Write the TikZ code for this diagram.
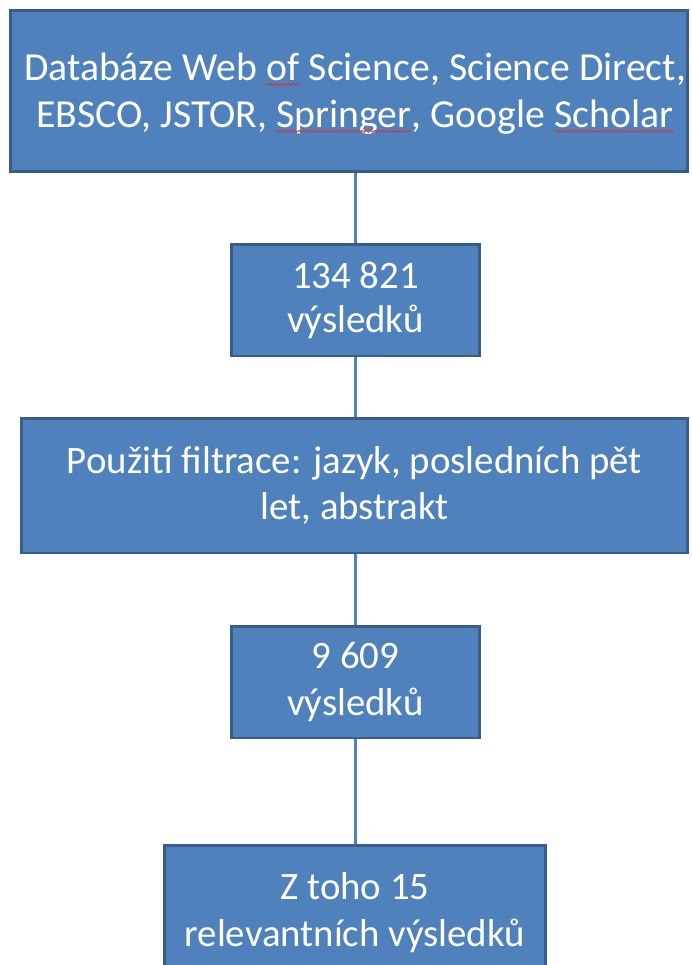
\documentclass[tikz,border=0pt]{standalone}
\usepackage{fontspec}
\setmainfont{Carlito}
\usetikzlibrary{positioning}
\usetikzlibrary{decorations.pathmorphing}
\definecolor{boxfill}{HTML}{4F81BD}
\definecolor{boxline}{HTML}{385D8A}
\definecolor{spellred}{HTML}{E03030}
\newcommand{\spellmark}[1]{\tikz[baseline=(w.base),x=1pt,y=1pt]{%
  \node[inner sep=0pt,outer sep=0pt,minimum width=0pt,minimum height=0pt,
    draw=none,fill=none,text=white,anchor=base] (w) at (0,0) {#1};
  \draw[spellred,line width=0.5pt,decorate,
    decoration={snake,amplitude=0.5pt,segment length=2.4pt}]
    ([yshift=-2pt]w.base west) -- ([yshift=-2pt]w.base east);}}
\tikzset{
  stepbox/.style={draw=boxline,fill=boxfill,line width=1.7pt,text=white,
    align=center,inner sep=0pt,font=\fontsize{22.1pt}{26.7pt}\selectfont},
  steptext/.style={text=white,align=center,inner sep=0pt,
    font=\fontsize{22.6pt}{26.7pt}\selectfont},
  link/.style={draw=boxfill,line width=2pt}
}
\begin{document}
\begin{tikzpicture}[x=0.02cm,y=-0.02cm]
\useasboundingbox (0,0) rectangle (691,965);
\clip (0,0) rectangle (691,965);

\node[stepbox,minimum width=13.56cm,minimum height=3.22cm] (db) at (349,91) {};
\node[steptext] (dbtext) at (355,94)
  {Databáze Web \spellmark{of} Science, Science Direct,\\
   EBSCO, JSTOR, \spellmark{Springer}, Google \spellmark{Scholar}};
\node[stepbox,minimum width=4.98cm,minimum height=2.24cm] (res1) at (355.5,300)
  {\raisebox{-1.5pt}{134 821}\\výsledků};
\node[stepbox,minimum width=13.34cm,minimum height=2.7cm] (filtr) at (354.5,485.5)
  {Použití filtrace: jazyk, posledních pět\\let, abstrakt};
\node[stepbox,minimum width=4.98cm,minimum height=2.24cm] (res2) at (355.5,682)
  {9 609\\výsledků};
\node[stepbox,minimum width=7.64cm,minimum height=2.7cm] (relev) at (355,912.5)
  {Z toho 15\\relevantních výsledků};

% spojnice
\draw[link] (db.south -| res1) -- (res1);
\draw[link] (res1) -- (filtr.north -| res1);
\draw[link] (filtr.south -| res2) -- (res2);
\draw[link] (res2) -- (relev.north -| res2);
\end{tikzpicture}
\end{document}
